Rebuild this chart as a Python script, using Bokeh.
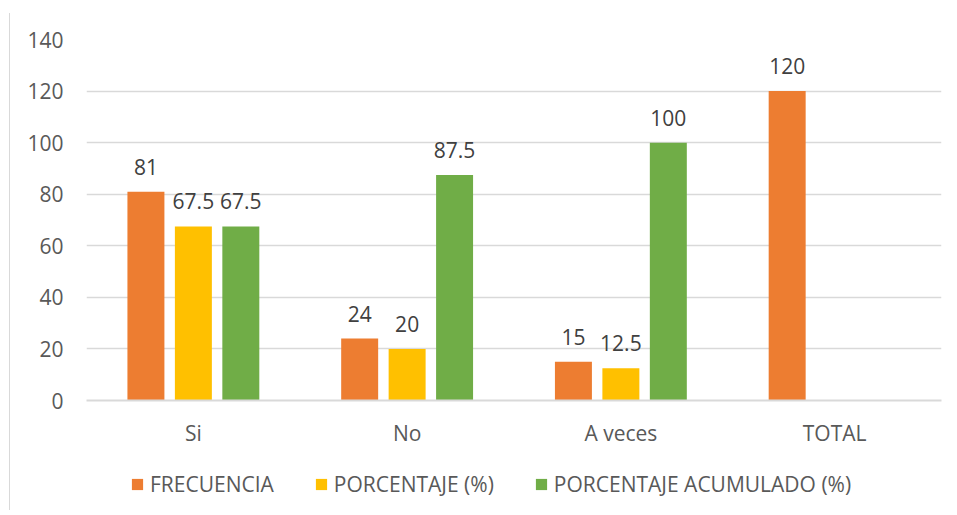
from bokeh.plotting import figure
from bokeh.layouts import column
from bokeh.models import ColumnDataSource, FactorRange, Legend, LegendItem, Range1d, FixedTicker
from bokeh.transform import dodge
from bokeh.core.properties import value
from bokeh.embed import file_html
from bokeh.resources import INLINE

categories = ["Si", "No", "A veces", "TOTAL"]
frecuencia = [81, 24, 15, 120]
porcentaje = [67.5, 20, 12.5, None]
acumulado = [67.5, 87.5, 100, None]
series_names = ["FRECUENCIA", "PORCENTAJE (%)", "PORCENTAJE ACUMULADO (%)"]
y_ticks = [0, 20, 40, 60, 80, 100, 120, 140]

colors = ["#ED7D31", "#FFC000", "#70AD47"]
offsets = [-0.222, 0.0, 0.222]
FONT = "Open Sans"
FS = "21px"

p = figure(x_range=FactorRange(factors=categories, range_padding=0),
           y_range=Range1d(0, 140),
           width=940, height=437, output_backend="svg", toolbar_location=None,
           min_border_left=76, min_border_right=9, min_border_top=26, min_border_bottom=50)
p.outline_line_color = None

def fmt(v):
    return str(int(v)) if float(v).is_integer() else str(v)

for name, vals, col, off in zip(series_names, [frecuencia, porcentaje, acumulado], colors, offsets):
    xs = [c for c, v in zip(categories, vals) if v is not None]
    ys = [v for v in vals if v is not None]
    src = ColumnDataSource(dict(x=xs, y=ys, lab=[fmt(v) for v in ys]))
    p.vbar(x=dodge("x", off, range=p.x_range), top="y", width=0.173, source=src,
           fill_color=col, line_color=None)
    p.text(x=dodge("x", off, range=p.x_range), y="y", text="lab", source=src,
           text_align="center", text_baseline="middle", y_offset=-25,
           text_font=value(FONT), text_font_size=FS, text_color="#404040")

# axes
p.yaxis.ticker = FixedTicker(ticks=y_ticks)
p.yaxis.axis_line_color = None
p.yaxis.major_tick_line_color = None
p.yaxis.minor_tick_line_color = None
p.yaxis.major_tick_out = 0
p.yaxis.major_tick_in = 0
p.yaxis.major_label_standoff = 23
p.yaxis.major_label_text_font = FONT
p.yaxis.major_label_text_font_size = FS
p.yaxis.major_label_text_color = "#595959"

p.xaxis.axis_line_color = "#d9d9d9"
p.xaxis.axis_line_width = 2
p.xaxis.major_tick_line_color = None
p.xaxis.minor_tick_line_color = None
p.xaxis.major_tick_out = 0
p.xaxis.major_tick_in = 0
p.xaxis.major_label_standoff = 18
p.xaxis.major_label_text_font = FONT
p.xaxis.major_label_text_font_size = FS
p.xaxis.major_label_text_color = "#595959"

p.xgrid.grid_line_color = None
p.ygrid.grid_line_color = "#d9d9d9"
p.ygrid.grid_line_width = 1.5

# legend figure below
lf = figure(width=940, height=60, output_backend="svg", toolbar_location=None,
            x_axis_location=None, y_axis_location=None,
            min_border_left=0, min_border_right=0, min_border_top=0, min_border_bottom=0,
            x_range=Range1d(0, 1), y_range=Range1d(0, 1))
lf.outline_line_color = None
lf.grid.grid_line_color = None
items = []
for name, col in zip(series_names, colors):
    r = lf.vbar(x=[5], top=[0], width=0.1, fill_color=col, line_color=None)
    items.append(LegendItem(label=name, renderers=[r]))

legend = Legend(items=items, orientation="horizontal", location=(44, 12),
                glyph_width=14, glyph_height=14, label_standoff=6, spacing=40,
                label_text_font=FONT, label_text_font_size=FS, label_text_color="#595959",
                border_line_color=None, background_fill_alpha=0, margin=0, padding=0)
lf.add_layout(legend, "center")

layout = column(p, lf, margin=(13, 0, 0, 9), spacing=0)
layout.styles = {"border-left": "1px solid #d9d9d9"}

open("out.html", "w").write(file_html(layout, INLINE))
